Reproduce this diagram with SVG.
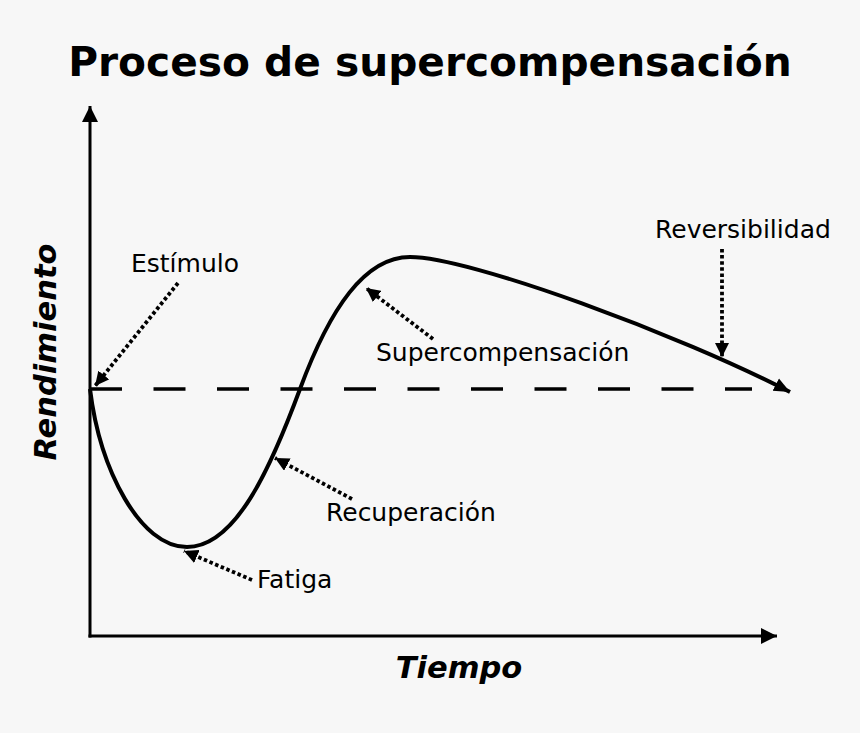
<svg xmlns="http://www.w3.org/2000/svg" width="860" height="733" viewBox="0 0 860 733">
<style>
.lbl{font-family:"DejaVu Sans","Liberation Sans",sans-serif;font-size:25px;fill:#000}
.axl{font-family:"DejaVu Sans","Liberation Sans",sans-serif;font-size:30.5px;font-weight:bold;font-style:italic;fill:#000}
.ttl{font-family:"DejaVu Sans","Liberation Sans",sans-serif;font-size:40.7px;font-weight:bold;fill:#000}
.axis{stroke:#000;stroke-width:3;fill:none}
.dot{stroke:#000;stroke-width:3.8;stroke-dasharray:3.5 2.6;fill:none}
</style>
<defs>
<marker id="axHead" markerUnits="userSpaceOnUse" markerWidth="16" markerHeight="16" viewBox="0 0 14 14" refX="14" refY="7" orient="auto"><path d="M0,0 L14,7 L0,14 z" fill="#000"/></marker>
<marker id="crvHead" markerUnits="userSpaceOnUse" markerWidth="16" markerHeight="16" viewBox="0 0 15 13" refX="15" refY="6.5" orient="auto"><path d="M0,0 L15,6.5 L0,13 z" fill="#000"/></marker>
<marker id="dotHead" markerUnits="userSpaceOnUse" markerWidth="14" markerHeight="14" viewBox="0 0 12 12" refX="12" refY="6" orient="auto"><path d="M0,0 L12,6 L0,12 z" fill="#000"/></marker>
</defs>
<rect x="0" y="0" width="860" height="733" fill="#f7f7f7"/>
<text class="ttl" x="430" y="76" text-anchor="middle">Proceso de supercompensación</text>
<g id="connectors">
<line class="axis" x1="90" y1="637.5" x2="90" y2="106" marker-end="url(#axHead)"/>
<line class="axis" x1="88.5" y1="636" x2="777" y2="636" marker-end="url(#axHead)"/>
<line x1="90" y1="389" x2="752" y2="389" stroke="#000" stroke-width="3.5" stroke-dasharray="32 31.5"/>
<path d="M90,389 C100,470 140,547 187,547 C235,547 270,470 300,389 C330,308 365,257 410,257 C470,257 680,335 790,392" stroke="#000" stroke-width="4" fill="none" marker-end="url(#crvHead)"/>
<line class="dot" x1="178" y1="283" x2="95" y2="386" marker-end="url(#dotHead)"/>
<line class="dot" x1="722" y1="249" x2="722" y2="357" marker-end="url(#dotHead)"/>
<line class="dot" x1="433" y1="339" x2="366" y2="288" marker-end="url(#dotHead)"/>
<line class="dot" x1="352" y1="499" x2="275" y2="458" marker-end="url(#dotHead)"/>
<line class="dot" x1="252" y1="580" x2="184" y2="551" marker-end="url(#dotHead)"/>
</g>
<g id="estimulo"><text class="lbl" x="131" y="272">Estímulo</text></g>
<g id="reversibilidad"><text class="lbl" x="655" y="238">Reversibilidad</text></g>
<g id="supercompensacion"><text class="lbl" x="376" y="361">Supercompensación</text></g>
<g id="recuperacion"><text class="lbl" x="326" y="521">Recuperación</text></g>
<g id="fatiga"><text class="lbl" x="257" y="588">Fatiga</text></g>
<g id="tiempo"><text class="axl" x="459" y="678" text-anchor="middle">Tiempo</text></g>
<g id="rendimiento"><text class="axl" transform="translate(56,352) rotate(-90)" text-anchor="middle">Rendimiento</text></g>
</svg>
